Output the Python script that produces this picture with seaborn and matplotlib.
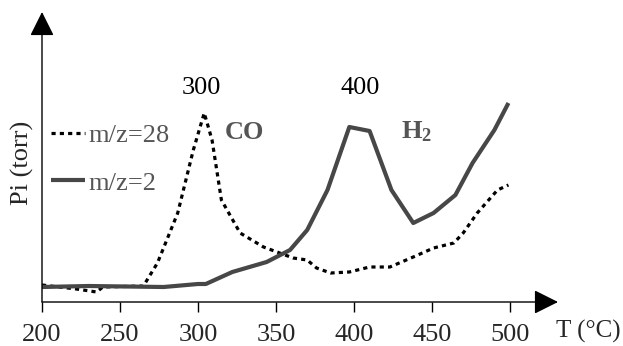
import matplotlib
matplotlib.use('Agg')
import matplotlib.pyplot as plt
import pandas as pd
import seaborn as sns

# m/z=2 (H2) trace, arbitrary pressure units
t_h2 = [200, 230, 278, 300, 305, 322, 344, 359, 370, 383, 397, 410, 424, 438, 451, 465, 476, 490, 499]
p_h2 = [15, 16, 15, 18, 18, 30, 40, 52, 72, 112, 175, 171, 112, 79, 89, 107, 139, 172, 199]

# m/z=28 (CO) trace
t_co = [200, 222, 235, 239, 265, 274, 287, 297, 304, 309, 315, 327, 342, 361, 370, 376,
        385, 397, 410, 423, 438, 451, 464, 470, 479, 492, 499]
p_co = [17, 13, 10, 15, 16, 39, 89, 152, 189, 162, 102, 69, 55, 44, 42, 34,
        29, 30, 35, 35, 45, 54, 59, 69, 89, 112, 117]

x_ticks = [200, 250, 300, 350, 400, 450, 500]
peak_labels = ['300', '400']
peak_pos = [302, 404]

sns.set_style('white')
plt.rcParams['font.family'] = ['Liberation Serif', 'DejaVu Serif']
plt.rcParams['mathtext.fontset'] = 'custom'
plt.rcParams['mathtext.bf'] = 'Liberation Serif:bold'
plt.rcParams['mathtext.rm'] = 'Liberation Serif'

FS = 19

df_h2 = pd.DataFrame({'T': t_h2, 'P': p_h2})
df_co = pd.DataFrame({'T': t_co, 'P': p_co})

fig = plt.figure(figsize=(6.23, 3.46), dpi=100)
ax = fig.add_axes([42 / 623, 44 / 346, 516 / 623, 290 / 346])
ax.set_xlim(200, 200 + 516 / 1.56)
ax.set_ylim(0, 290)

sns.lineplot(data=df_co, x='T', y='P', ax=ax, color='black', lw=2.3,
             linestyle=(0, (1.3, 1.3)), label='m/z=28')
sns.lineplot(data=df_h2, x='T', y='P', ax=ax, color='#474747', lw=3,
             label='m/z=2')
for ln in ax.get_lines():
    ln.set_dash_capstyle('butt')
    ln.set_solid_capstyle('butt')

for s in ax.spines.values():
    s.set_visible(False)

# axis arrows
arrow = dict(arrowstyle='-|>,head_length=1.0,head_width=0.5', color='black',
             lw=1, mutation_scale=15, shrinkA=0, shrinkB=0)
ax.annotate('', xy=(1, 0), xytext=(0, 0), xycoords='axes fraction', arrowprops=arrow)
ax.annotate('', xy=(0, 1), xytext=(0, 0), xycoords='axes fraction', arrowprops=arrow)

ax.set_xticks(x_ticks)
ax.set_xticklabels([str(v) for v in x_ticks])
ax.set_yticks([])
ax.tick_params(axis='x', direction='out', length=7, width=1, color='black',
               labelsize=FS, pad=9, bottom=True)
ax.set_xlabel('')
ax.set_ylabel('')

for lab, xp in zip(peak_labels, peak_pos):
    ax.text(xp, 214, lab, ha='center', va='center', fontsize=FS, color='black')

ax.text(330, 170, 'CO', ha='center', va='center', fontsize=FS,
        fontweight='bold', color='#555555')
ax.text(440, 170, r'$\mathbf{H_2}$', ha='center', va='center', fontsize=FS,
        color='#555555')

fig.text(621 / 623, 1 - 331 / 346, 'T (°C)', ha='right', va='center', fontsize=18)
fig.text(22 / 623, 1 - 163 / 346, 'Pi (torr)', ha='center', va='center',
         rotation=90, fontsize=FS)

leg = ax.legend(loc='upper left', bbox_to_anchor=(51 / 623, 1 - 124 / 346),
                bbox_transform=fig.transFigure, frameon=False, fontsize=FS,
                handlelength=1.3, handletextpad=0.1, labelspacing=0.9,
                borderaxespad=0, borderpad=0, labelcolor='#555555')

fig.savefig('out.png', dpi=100)
